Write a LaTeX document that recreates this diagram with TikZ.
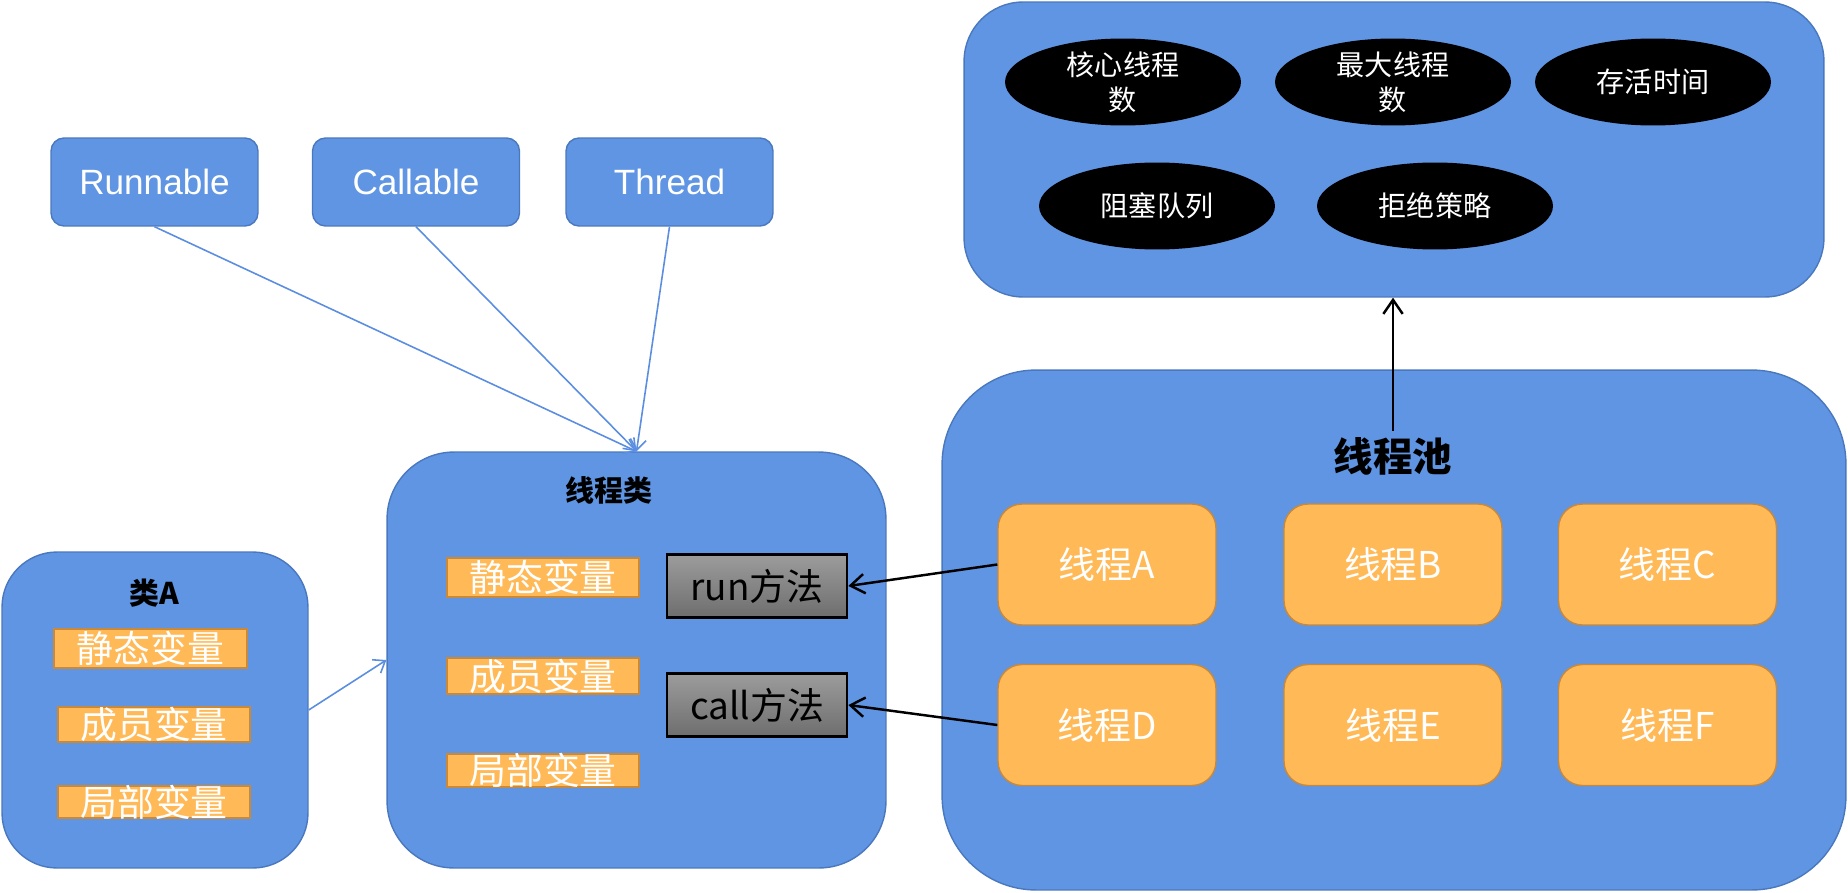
\documentclass[tikz,border=0pt]{standalone}
\usepackage{fontspec}
\setmainfont{Liberation Sans}
\newfontfamily\cjk{Noto Sans CJK SC}
\usetikzlibrary{shapes.geometric,arrows.meta}

\definecolor{boxblue}{HTML}{5F95E3}
\definecolor{edgeblue}{HTML}{4A78BE}
\definecolor{varorange}{HTML}{FFB957}
\definecolor{edgeorange}{HTML}{C9893A}
\definecolor{linkblue}{HTML}{5B8EE0}
\definecolor{greytop}{HTML}{9C9C9C}
\definecolor{greybot}{HTML}{6E6E6E}

\tikzset{
	bigbox/.style={draw=edgeblue, fill=boxblue, line width=0.8pt, rounded corners=#1, inner sep=0pt},
	iface/.style={draw=edgeblue, fill=boxblue, line width=0.8pt, rounded corners=0.26cm,
		minimum width=4.14cm, minimum height=1.76cm, text=white, font=\fontsize{20}{24}\selectfont},
	param/.style={ellipse, fill=black, text=white, minimum width=4.72cm, minimum height=1.74cm,
		inner sep=0pt, align=center, font=\cjk\fontsize{16}{20}\selectfont},
	thr/.style={draw=edgeorange, fill=varorange, line width=0.8pt, rounded corners=0.48cm,
		minimum width=4.36cm, minimum height=2.42cm, text=white, font=\cjk\fontsize{21}{25}\selectfont},
	var/.style={draw=edgeorange, fill=varorange, line width=1.1pt, minimum width=3.84cm,
		inner sep=0pt, text height=16pt, text depth=0pt, text=white, font=\cjk\fontsize{21}{25}\selectfont},
	method/.style={draw=black, line width=1.5pt, top color=greytop, bottom color=greybot,
		minimum width=3.6cm, minimum height=1.26cm, font=\cjk\fontsize{21}{25}\selectfont},
	heading/.style={font=\cjk\bfseries\fontsize{#1}{#1}\selectfont},
	link/.style={draw=linkblue, line width=0.9pt, -{Straight Barb[length=6pt,width=9pt]}},
	call/.style={draw=black, line width=1.4pt, -{Straight Barb[length=8pt,width=11pt]}}
}

\begin{document}
\begin{tikzpicture}[x=0.02cm, y=-0.02cm]
		%%%%% START %%%%%
		\useasboundingbox (0,0) rectangle (1848,892);
		
		% big boxes
		\node[bigbox=1.18cm, minimum width=17.2cm, minimum height=5.9cm] (params) at (1394,149.5) {};
		\node[bigbox=1.88cm, minimum width=18.08cm, minimum height=10.4cm] (pool) at (1394,630) {};
		\node[bigbox=1.34cm, minimum width=9.98cm, minimum height=8.32cm] (tcls) at (636.5,660) {};
		\node[bigbox=1.1cm, minimum width=6.12cm, minimum height=6.32cm] (clsA) at (155,710) {};
		
		% interfaces
		\node[iface] (runnable) at (154.5,182) {Runnable};
		\node[iface] (callable) at (416,182) {Callable};
		\node[iface] (thread) at (669.5,182) {Thread};
		
		% pool parameters
		\node[param] (core) at (1123,82) {核心线程\\数};
		\node[param] (max) at (1393,82) {最大线程\\数};
		\node[param] (alive) at (1653,82) {存活时间};
		\node[param] (queue) at (1157,206) {阻塞队列};
		\node[param] (reject) at (1435,206) {拒绝策略};
		
		% pool
		\node[heading=22.5] (pooltitle) at (1393,456) {线程池};
		\node[thr] (thA) at (1107,564.5) {线程A};
		\node[thr] (thB) at (1393,564.5) {线程B};
		\node[thr] (thC) at (1667.5,564.5) {线程C};
		\node[thr] (thD) at (1107,725) {线程D};
		\node[thr] (thE) at (1393,725) {线程E};
		\node[thr] (thF) at (1667.5,725) {线程F};
		
		% thread class
		\node[heading=16.5] (tclstitle) at (609,490) {线程类};
		\node[var, minimum height=0.78cm] (tstatic) at (543,577.5) {静态变量};
		\node[var, minimum height=0.72cm] (tmember) at (543,676) {成员变量};
		\node[var, minimum height=0.66cm] (tlocal) at (543,770.5) {局部变量};
		\node[method] (run) at (757,586) {run方法};
		\node[method] (callm) at (757,705) {call方法};
		
		% class A
		\node[heading=17] (clsAtitle) at (154,593) {类A};
		\node[var, minimum width=3.86cm, minimum height=0.78cm] (astatic) at (150.5,648.5) {静态变量};
		\node[var, minimum height=0.7cm] (amember) at (154,724.5) {成员变量};
		\node[var, minimum height=0.64cm] (alocal) at (154,802) {局部变量};
		
		% connectors
		\draw[link] (runnable.south) -- (tcls.north);
		\draw[link] (callable.south) -- (tcls.north);
		\draw[link] (thread.south) -- (tcls.north);
		\draw[link] (clsA.east) -- (tcls.west);
		\draw[call] (thA.west) -- (run.east);
		\draw[call] (thD.west) -- (callm.east);
		\draw[call] (pooltitle.north) -- (pooltitle.north |- params.south);
		
		%%%%% END %%%%%
\end{tikzpicture}
\end{document}
